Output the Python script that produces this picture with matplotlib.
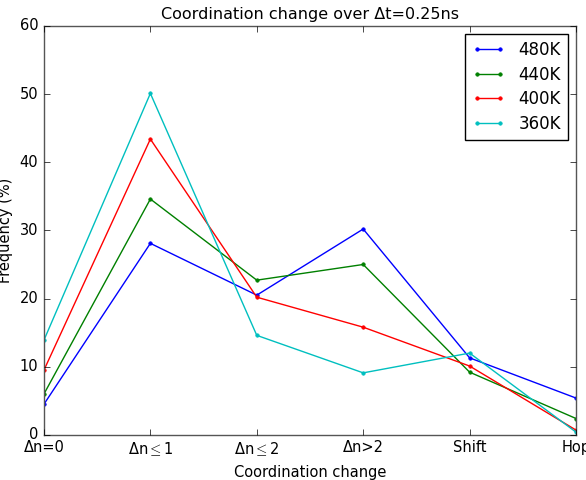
import matplotlib
matplotlib.use("Agg")
import matplotlib.pyplot as plt

plt.style.use("classic")

categories = ["Δn=0", r"Δn$\leq$1", r"Δn$\leq$2", "Δn>2", "Shift", "Hop"]
labels = ["480K", "440K", "400K", "360K"]
colors = ["b", "g", "r", "c"]
v480 = [4.5, 28.1, 20.5, 30.2, 11.3, 5.4]
v440 = [6.0, 34.6, 22.7, 25.0, 9.2, 2.4]
v400 = [9.5, 43.4, 20.2, 15.8, 10.1, 0.7]
v360 = [13.9, 50.1, 14.6, 9.1, 12.0, 0.4]
series = [v480, v440, v400, v360]

fig = plt.figure(figsize=(5.86, 4.8), dpi=100)
fig.patch.set_facecolor("white")
ax = fig.add_axes([0.075, 0.094, 0.908, 0.852])
x = list(range(len(categories)))
for vals, lab, c in zip(series, labels, colors):
    ax.plot(x, vals, color=c, marker=".", markersize=5, markeredgecolor=c, label=lab, linewidth=1)

ax.set_xlim(0, len(categories) - 1)
ax.set_ylim(0, 60)
ax.set_yticks([0, 10, 20, 30, 40, 50, 60])
ax.set_xticks(x)
ax.set_xticklabels(categories)
ax.tick_params(labelsize=10.5)
ax.set_xlabel("Coordination change", fontsize=10.5)
ax.set_ylabel("Frequency (%)", fontsize=10.5)
ax.set_title("Coordination change over Δt=0.25ns", fontsize=11.5)
leg = ax.legend(loc="upper right", fontsize=12, numpoints=2, labelspacing=0.4)
for s in ax.spines.values():
    s.set_color("#555555")
fig.savefig("out.png", dpi=100, facecolor="white")
